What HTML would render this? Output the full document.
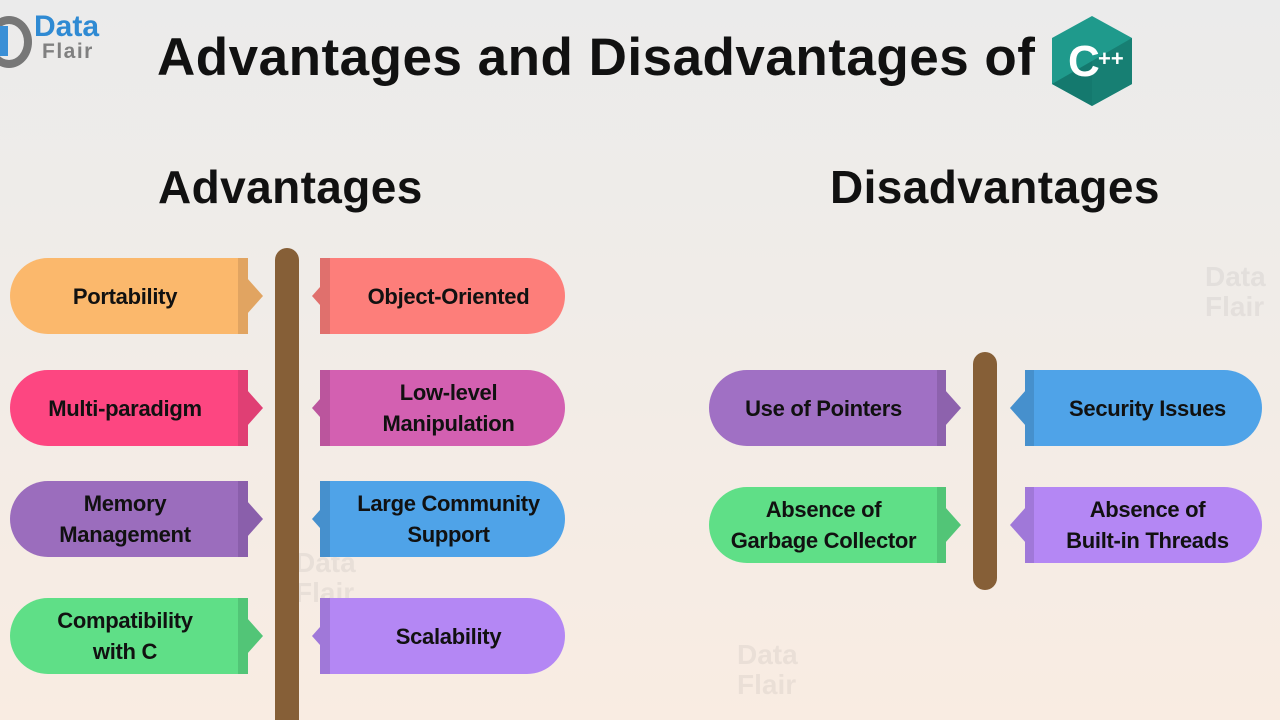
<!DOCTYPE html>
<html><head><meta charset="utf-8"><style>
*{margin:0;padding:0;box-sizing:border-box}
html,body{width:1280px;height:720px;overflow:hidden}
body{position:relative;font-family:"Liberation Sans",sans-serif;
background:linear-gradient(#ebebeb 0%,#f0ece8 40%,#f9ece2 100%)}
.a{position:absolute}
.box{position:absolute;height:76px;display:flex;align-items:center;justify-content:center;text-align:center;font-weight:bold;font-size:22px;line-height:31px;color:#111;letter-spacing:-0.3px}
.L{border-radius:38px 0 0 38px}
.R{border-radius:0 38px 38px 0}
.tri{position:absolute;width:16px;height:36px}
.tl{clip-path:polygon(0 0,100% 50%,0 100%)}
.tr{clip-path:polygon(100% 0,0 50%,100% 100%)}
.pole{position:absolute;width:24px;background:#865f37;border-radius:12px}
h1{position:absolute;left:157px;top:27px;font-size:53px;font-weight:bold;color:#111;letter-spacing:0.5px;white-space:nowrap}
h2{position:absolute;font-size:46px;font-weight:bold;color:#111;top:160px;letter-spacing:0.4px}
.wm{position:absolute;opacity:.1;font-size:28px;font-weight:bold;color:#777;line-height:30px}
</style></head><body>
<div class="a" style="left:-14px;top:16px;width:46px;height:52px;border:8px solid #777;border-radius:50%;border-left-color:transparent"></div>
<div class="a" style="left:0;top:26px;width:8px;height:30px;background:#3a8fd6"></div>
<div class="a" style="left:34px;top:10px;font-size:30px;font-weight:bold;color:#2f8ad3">Data</div>
<div class="a" style="left:42px;top:40px;font-size:21px;font-weight:bold;color:#808080;letter-spacing:1.5px">Flair</div>
<h1>Advantages and Disadvantages of</h1>
<svg class="a" style="left:1050px;top:14px" width="84" height="94" viewBox="0 0 84 94">
<polygon points="42,2 82,24 82,70 42,92 2,70 2,24" fill="#1f9a8c"/>
<polygon points="42,47 82,24 82,70 42,92" fill="#177f73"/>
<polygon points="2,70 42,47 42,92" fill="#14796e"/>
<text x="18" y="62" font-family="Liberation Sans" font-weight="bold" font-size="44" fill="#fff">C</text>
<text x="48" y="52" font-family="Liberation Sans" font-weight="bold" font-size="22" fill="#fff">++</text>
</svg>
<h2 style="left:158px">Advantages</h2>
<h2 style="left:830px">Disadvantages</h2>

<div class="wm" style="left:1205px;top:262px">Data<br>Flair</div>
<div class="wm" style="left:295px;top:548px">Data<br>Flair</div>
<div class="wm" style="left:737px;top:640px">Data<br>Flair</div>

<div class="pole" style="left:275px;top:248px;height:472px;border-radius:12px 12px 0 0"></div>
<div class="pole" style="left:973px;top:352px;height:238px"></div>

<div class="box L" style="left:10px;top:258px;width:238px;background:#fbb86c;padding-right:8px">Portability</div>
<div class="a" style="left:238px;top:258px;width:10px;height:76px;background:#e1a461"></div>
<div class="tri tl" style="left:247px;top:278px;background:#e1a461"></div>

<div class="box L" style="left:10px;top:370px;width:238px;background:#fd4681;padding-right:8px">Multi-paradigm</div>
<div class="a" style="left:238px;top:370px;width:10px;height:76px;background:#e03f74"></div>
<div class="tri tl" style="left:247px;top:390px;background:#e03f74"></div>

<div class="box L" style="left:10px;top:481px;width:238px;background:#9b6dbd;padding-right:8px">Memory<br>Management</div>
<div class="a" style="left:238px;top:481px;width:10px;height:76px;background:#8a5fab"></div>
<div class="tri tl" style="left:247px;top:501px;background:#8a5fab"></div>

<div class="box L" style="left:10px;top:598px;width:238px;background:#5fdf87;padding-right:8px">Compatibility<br>with C</div>
<div class="a" style="left:238px;top:598px;width:10px;height:76px;background:#52c577"></div>
<div class="tri tl" style="left:247px;top:618px;background:#52c577"></div>

<div class="box R" style="left:320px;top:258px;width:245px;background:#fd7e7a;padding-left:12px">Object-Oriented</div>
<div class="a" style="left:320px;top:258px;width:10px;height:76px;background:#e0706d"></div>
<div class="tri tr" style="left:312px;top:278px;background:#e0706d"></div>

<div class="box R" style="left:320px;top:370px;width:245px;background:#d360b1;padding-left:12px">Low-level<br>Manipulation</div>
<div class="a" style="left:320px;top:370px;width:10px;height:76px;background:#bb559d"></div>
<div class="tri tr" style="left:312px;top:390px;background:#bb559d"></div>

<div class="box R" style="left:320px;top:481px;width:245px;background:#4fa3e8;padding-left:12px">Large Community<br>Support</div>
<div class="a" style="left:320px;top:481px;width:10px;height:76px;background:#4690cd"></div>
<div class="tri tr" style="left:312px;top:501px;background:#4690cd"></div>

<div class="box R" style="left:320px;top:598px;width:245px;background:#b487f4;padding-left:12px">Scalability</div>
<div class="a" style="left:320px;top:598px;width:10px;height:76px;background:#a078d9"></div>
<div class="tri tr" style="left:312px;top:618px;background:#a078d9"></div>

<div class="box L" style="left:709px;top:370px;width:237px;background:#a070c4;padding-right:8px">Use of Pointers</div>
<div class="a" style="left:937px;top:370px;width:9px;height:76px;background:#8d62ad"></div>
<div class="tri tl" style="left:945px;top:390px;background:#8d62ad"></div>

<div class="box L" style="left:709px;top:487px;width:237px;background:#5fdf87;padding-right:8px">Absence of<br>Garbage Collector</div>
<div class="a" style="left:937px;top:487px;width:9px;height:76px;background:#52c577"></div>
<div class="tri tl" style="left:945px;top:507px;background:#52c577"></div>

<div class="box R" style="left:1025px;top:370px;width:237px;background:#4fa3e8;padding-left:8px">Security Issues</div>
<div class="a" style="left:1025px;top:370px;width:9px;height:76px;background:#4690cd"></div>
<div class="tri tr" style="left:1010px;top:390px;background:#4690cd"></div>

<div class="box R" style="left:1025px;top:487px;width:237px;background:#b487f4;padding-left:8px">Absence of<br>Built-in Threads</div>
<div class="a" style="left:1025px;top:487px;width:9px;height:76px;background:#a078d9"></div>
<div class="tri tr" style="left:1010px;top:507px;background:#a078d9"></div>
</body></html>
